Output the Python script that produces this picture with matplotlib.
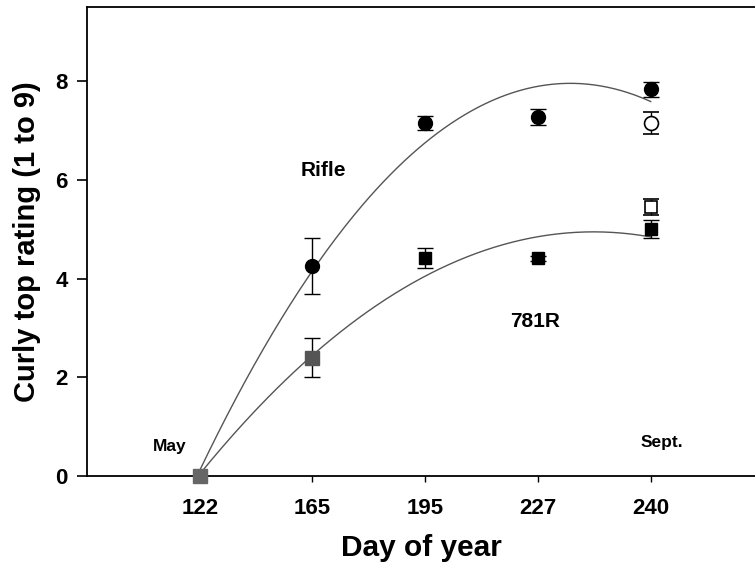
import matplotlib
matplotlib.use("Agg")
import matplotlib.pyplot as plt
import numpy as np

plt.rcParams["font.family"] = ["Liberation Sans", "DejaVu Sans"]
plt.rcParams["font.weight"] = "bold"

# ---------------------------------------------------------------------------
# Data
# ---------------------------------------------------------------------------
days = ["122", "165", "195", "227", "240"]
pos = np.arange(1, len(days) + 1)

rifle_mean = [0.0, 4.25, 7.15, 7.27, 7.83]
rifle_err = [0.0, 0.57, 0.14, 0.16, 0.15]

r781_mean = [0.0, 2.40, 4.41, 4.41, 5.00]
r781_err = [0.0, 0.40, 0.20, 0.05, 0.18]

# open symbols at the last date
rifle_open_mean, rifle_open_err = 7.15, 0.23
r781_open_mean, r781_open_err = 5.45, 0.17

# ---------------------------------------------------------------------------
# Figure
# ---------------------------------------------------------------------------
fig = plt.figure(figsize=(7.55, 5.68), dpi=100)
ax = fig.add_axes([0.1152, 0.162, 0.8848, 0.8257])

# quadratic fits of the means
xs = np.linspace(pos[0], pos[-1], 200)
for mean in (rifle_mean, r781_mean):
    coef = np.polyfit(pos, mean, 2)
    ax.plot(xs, np.polyval(coef, xs), color="#555555", lw=1.0, zorder=2)

eb = dict(ecolor="black", elinewidth=1.0, capsize=5.5, capthick=1.0,
          linestyle="none", clip_on=False, zorder=3)

# Rifle (circles)
ax.errorbar(pos[1:], rifle_mean[1:], yerr=rifle_err[1:], fmt="o", ms=10,
            mfc="black", mec="black", **eb)
ax.errorbar(pos[-1], rifle_open_mean, yerr=rifle_open_err, fmt="o", ms=10,
            mfc="white", mec="black", mew=1.2, **eb)

# 781R (squares)
ax.errorbar(pos[2:], r781_mean[2:], yerr=r781_err[2:], fmt="s", ms=9,
            mfc="black", mec="black", **eb)
ax.errorbar(pos[1], r781_mean[1], yerr=r781_err[1], fmt="s", ms=10,
            mfc="#555555", mec="#555555", **eb)
ax.errorbar(pos[-1], r781_open_mean, yerr=r781_open_err, fmt="s", ms=9,
            mfc="white", mec="black", mew=1.2, **eb)

# common starting point
ax.plot(pos[0], r781_mean[0], "s", ms=10, color="#666666", clip_on=False,
        zorder=4)

# labels inside
ax.text(2.10, 6.19, "Rifle", ha="center", va="center", fontsize=15,
        fontweight="bold")
ax.text(3.97, 3.12, "781R", ha="center", va="center", fontsize=15,
        fontweight="bold")
ax.text(0.73, 0.59, "May", ha="center", va="center", fontsize=12.5,
        fontweight="bold")
ax.text(5.10, 0.67, "Sept.", ha="center", va="center", fontsize=12.5,
        fontweight="bold")

ax.set_xlim(0, 5.925)
ax.set_ylim(0, 9.5)
ax.set_xticks(pos)
ax.set_xticklabels(days)
ax.set_yticks([0, 2, 4, 6, 8])

ax.tick_params(axis="y", direction="out", length=7, width=1.2,
               labelsize=16, pad=7)
ax.tick_params(axis="x", direction="out", length=4, width=1.0,
               labelsize=16, pad=12)
for lab in ax.get_xticklabels() + ax.get_yticklabels():
    lab.set_fontweight("bold")

ax.spines["right"].set_visible(False)
for s in ("left", "top", "bottom"):
    ax.spines[s].set_linewidth(1.3)

ax.set_xlabel("Day of year", fontsize=21.5, fontweight="bold", labelpad=11)
ax.set_ylabel("Curly top rating (1 to 9)", fontsize=21, fontweight="bold",
              labelpad=10)

fig.savefig("out.png", dpi=100)
